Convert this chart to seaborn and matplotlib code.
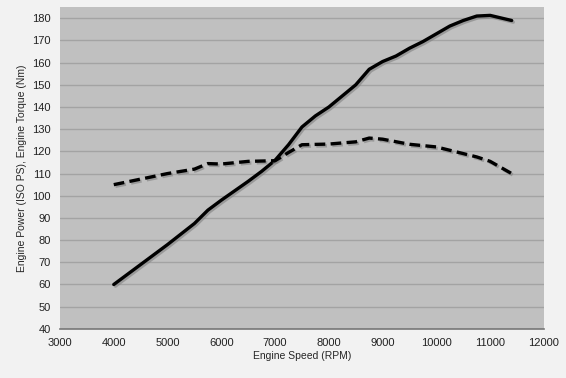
import numpy as np
import pandas as pd
import matplotlib
matplotlib.use('Agg')
import matplotlib.pyplot as plt
import matplotlib.patheffects as pe
import seaborn as sns

# ------------------------------------------------------------ #
# data
# ------------------------------------------------------------ #

power_rpm = [4000, 4500, 5000, 5500, 5750, 6000, 6500, 6750, 7000, 7250, 7500,
             7750, 8000, 8250, 8500, 8750, 9000, 9250, 9500, 9750, 10000,
             10250, 10500, 10750, 11000, 11400]
power_ps = [60, 69, 78, 87.5, 93.5, 98, 106.5, 111, 116, 123, 131,
            136, 140, 145, 150, 157, 160.5, 163, 166.5, 169.5, 173,
            176.5, 179, 181, 181.3, 179]

torque_rpm = [4000, 4500, 5000, 5500, 5750, 6000, 6500, 7000, 7250, 7500,
              8000, 8500, 8750, 9000, 9500, 10000, 10500, 10750, 11000, 11400]
torque_nm = [105, 107.5, 110, 112, 114.5, 114.3, 115.5, 115.8, 119.5, 123,
             123.3, 124.3, 126, 125.5, 123.2, 122, 119, 117.5, 115.5, 110]

x_ticks = list(range(3000, 12001, 1000))
y_ticks = list(range(40, 181, 10))

power = pd.DataFrame({'rpm': power_rpm, 'val': power_ps})
torque = pd.DataFrame({'rpm': torque_rpm, 'val': torque_nm})

# ------------------------------------------------------------ #
# plot
# ------------------------------------------------------------ #

sns.set_style('white')
plt.rcParams['font.family'] = ['Liberation Sans', 'DejaVu Sans']

fig = plt.figure(figsize=(5.66, 3.78), dpi=100, facecolor='#f2f2f2')
ax = fig.add_axes([0.106, 0.13, 0.855, 0.851])
ax.set_facecolor('#c0c0c0')

shadow = [pe.SimpleLineShadow(offset=(1.2, -1.2), shadow_color='#808080', alpha=0.6), pe.Normal()]

sns.lineplot(data=power, x='rpm', y='val', ax=ax, color='black', lw=2.4,
             path_effects=shadow)
sns.lineplot(data=torque, x='rpm', y='val', ax=ax, color='black', lw=2.4,
             dashes=(3.2, 1.6), path_effects=shadow)
ax.lines[-1].set_dashes((3.2, 1.6))

ax.set_xlim(3000, 12000)
ax.set_ylim(40, 185)
ax.set_xticks(x_ticks)
ax.set_yticks(y_ticks)
ax.tick_params(labelsize=8, colors='#222222', length=3, width=0.8)
ax.tick_params(axis='x', colors='#777777', labelcolor='#222222')
ax.tick_params(axis='y', colors='#999999', labelcolor='#222222')
ax.grid(axis='y', color='#a3a3a3', lw=1)
ax.set_axisbelow(True)
for s in ['top', 'right', 'left']:
    ax.spines[s].set_visible(False)
ax.spines['bottom'].set_color('#777777')
ax.spines['bottom'].set_linewidth(1.2)

ax.set_xlabel('Engine Speed (RPM)', fontsize=7.5, labelpad=2)
ax.set_ylabel('Engine Power (ISO PS), Engine Torque (Nm)', fontsize=7.5, labelpad=4)

fig.savefig('out.png', dpi=100, facecolor=fig.get_facecolor())
